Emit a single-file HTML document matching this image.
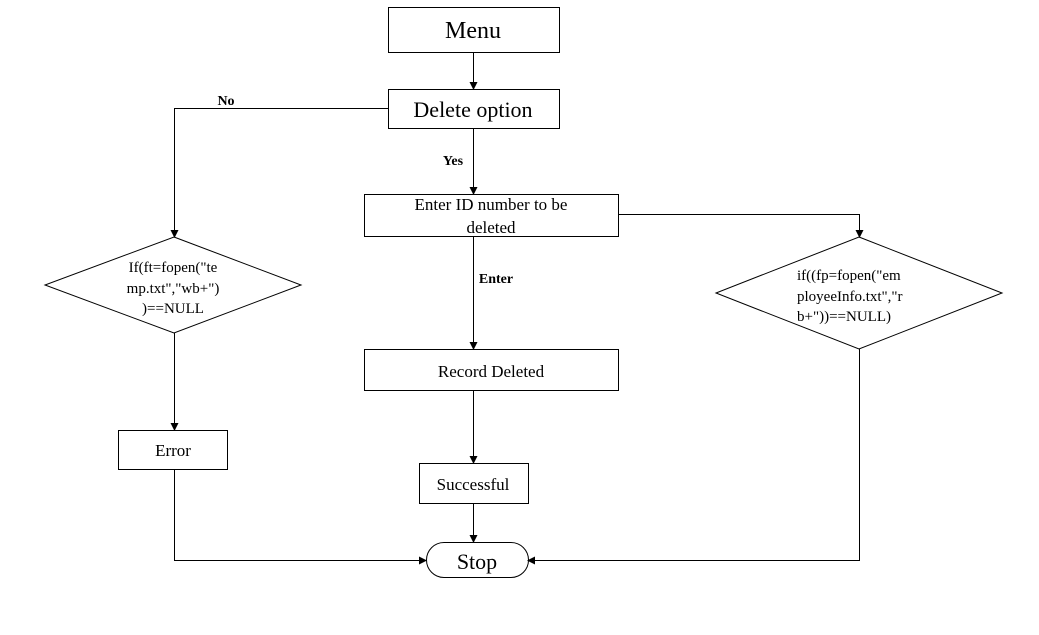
<!DOCTYPE html>
<html><head><style>body{margin:0;background:#fff}svg{display:block}text{font-family:"Liberation Serif",serif;fill:#000}</style></head><body>
<svg width="1039" height="635" viewBox="0 0 1039 635">
<defs><marker id="a" markerWidth="8" markerHeight="8" refX="7" refY="4" orient="auto" markerUnits="userSpaceOnUse"><path d="M0,0 L8,4 L0,8 z" fill="#000"/></marker></defs>
<g stroke="#000" stroke-width="1" fill="none">
<rect x="388.5" y="7.5" width="171" height="45"/>
<rect x="388.5" y="89.5" width="171" height="39"/>
<rect x="364.5" y="194.5" width="254" height="42"/>
<rect x="364.5" y="349.5" width="254" height="41"/>
<rect x="419.5" y="463.5" width="109" height="40"/>
<rect x="118.5" y="430.5" width="109" height="39"/>
<rect x="426.5" y="542.5" width="102" height="35" rx="17.5"/>
<polygon points="174,237 301,285 174,333 45,285"/>
<polygon points="859,237 1002,293 859,349 716,293"/>
<path d="M473.5,52 V89" marker-end="url(#a)"/>
<path d="M388,108.5 H174.5 V237" marker-end="url(#a)"/>
<path d="M473.5,128 V194" marker-end="url(#a)"/>
<path d="M618,214.5 H859.5 V237" marker-end="url(#a)"/>
<path d="M473.5,236 V349" marker-end="url(#a)"/>
<path d="M473.5,390 V463" marker-end="url(#a)"/>
<path d="M473.5,503 V542" marker-end="url(#a)"/>
<path d="M174.5,333 V430" marker-end="url(#a)"/>
<path d="M174.5,469 V560.5 H426" marker-end="url(#a)"/>
<path d="M859.5,349 V560.5 H528" marker-end="url(#a)"/>
</g>
<text x="473" y="38" font-size="24" text-anchor="middle">Menu</text>
<text x="473" y="117" font-size="22" text-anchor="middle">Delete option</text>
<text x="226" y="105" font-size="14" font-weight="bold" text-anchor="middle">No</text>
<text x="453" y="165" font-size="14" font-weight="bold" text-anchor="middle">Yes</text>
<text x="496" y="283" font-size="14" font-weight="bold" text-anchor="middle">Enter</text>
<text x="491" y="210" font-size="17" text-anchor="middle">Enter ID number to be</text>
<text x="491" y="233" font-size="17" text-anchor="middle">deleted</text>
<text x="491" y="377" font-size="17" text-anchor="middle">Record Deleted</text>
<text x="473" y="490" font-size="17" text-anchor="middle">Successful</text>
<text x="173" y="456" font-size="17" text-anchor="middle">Error</text>
<text x="477" y="569" font-size="22" text-anchor="middle">Stop</text>
<text x="173" y="272" font-size="15" text-anchor="middle">If(ft=fopen("te</text>
<text x="173" y="293" font-size="15" text-anchor="middle">mp.txt","wb+")</text>
<text x="173" y="313" font-size="15" text-anchor="middle">)==NULL</text>
<text x="797" y="280" font-size="15">if((fp=fopen("em</text>
<text x="797" y="301" font-size="15">ployeeInfo.txt","r</text>
<text x="797" y="321" font-size="15">b+"))==NULL)</text>
</svg>
</body></html>
